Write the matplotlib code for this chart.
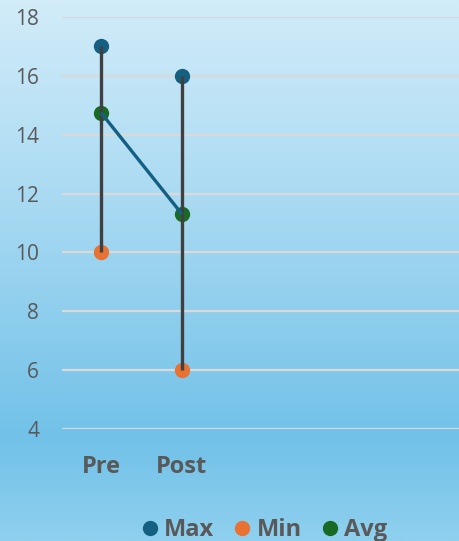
import numpy as np
import matplotlib
matplotlib.use("Agg")
import matplotlib.pyplot as plt
from matplotlib.colors import LinearSegmentedColormap
from matplotlib.lines import Line2D

# Data
categories = ["Pre", "Post"]
max_vals = [17, 16]
min_vals = [10, 6]
avg_vals = [14.75, 11.3]
y_ticks = [4, 6, 8, 10, 12, 14, 16, 18]

C_MAX = "#156082"
C_MIN = "#e97132"
C_AVG = "#196b24"
C_HL = "#404040"
C_TXT = "#595959"
C_GRID = "#d9d9d9"

W, H = 459, 541
fig = plt.figure(figsize=(W / 100, H / 100), dpi=100)

# Background gradient
bg = fig.add_axes([0, 0, 1, 1], zorder=-10)
cmap = LinearSegmentedColormap.from_list(
    "bg", [(0.0, "#d2ecf9"), (0.37, "#a9daf2"), (0.81, "#71c1e8"), (1.0, "#8fd0ef")]
)
grad = np.linspace(0, 1, 256).reshape(-1, 1)
bg.imshow(grad, cmap=cmap, aspect="auto", extent=[0, 1, 0, 1], origin="upper")
bg.set_axis_off()

left_px, right_px = 62, W
top_px, bot_px = 17, 429
ax = fig.add_axes([left_px / W, 1 - bot_px / H, (right_px - left_px) / W, (bot_px - top_px) / H])
ax.set_facecolor("none")

x = np.arange(len(categories))
cat_w = 81.0
x_lo = -(101 - left_px) / cat_w
x_hi = x_lo + (right_px - left_px) / cat_w
ax.set_xlim(x_lo, x_hi)
ax.set_ylim(4, 18)

for s in ax.spines.values():
    s.set_visible(False)

ax.set_yticks(y_ticks)
ax.yaxis.grid(True, color=C_GRID, linewidth=1.6)
ax.set_axisbelow(True)
ax.tick_params(axis="y", length=0, pad=16.5, labelsize=15, labelcolor=C_TXT)
ax.tick_params(axis="x", length=0, pad=19, labelsize=17, labelcolor=C_TXT)
ax.set_xticks(x)
ax.set_xticklabels(categories, fontweight="bold")
for lab in ax.get_yticklabels():
    lab.set_fontfamily("Open Sans")
for lab in ax.get_xticklabels():
    lab.set_fontfamily("Open Sans")

ms = 10
ax.plot(x, max_vals, linestyle="none", marker="o", markersize=ms, color=C_MAX, zorder=3, clip_on=False)
ax.plot(x, min_vals, linestyle="none", marker="o", markersize=ms, color=C_MIN, zorder=3, clip_on=False)
ax.plot(x, avg_vals, linestyle="none", marker="o", markersize=ms, color=C_AVG, zorder=3, clip_on=False)
ax.vlines(x, min_vals, max_vals, color=C_HL, linewidth=2.4, zorder=4)
ax.plot(x, avg_vals, color=C_MAX, linewidth=2.4, zorder=5, solid_capstyle="butt")

handles = [
    Line2D([], [], linestyle="none", marker="o", markersize=ms, color=C_MAX, label="Max"),
    Line2D([], [], linestyle="none", marker="o", markersize=ms, color=C_MIN, label="Min"),
    Line2D([], [], linestyle="none", marker="o", markersize=ms, color=C_AVG, label="Avg"),
]
leg = fig.legend(
    handles=handles, loc="center", bbox_to_anchor=(265 / W, 1 - 530 / H), ncol=3,
    frameon=False, handlelength=0.6, handletextpad=0.3, columnspacing=0.9,
    prop={"family": "Open Sans", "weight": "bold", "size": 17},
)
for t in leg.get_texts():
    t.set_color(C_TXT)

fig.savefig("out.png", dpi=100)
